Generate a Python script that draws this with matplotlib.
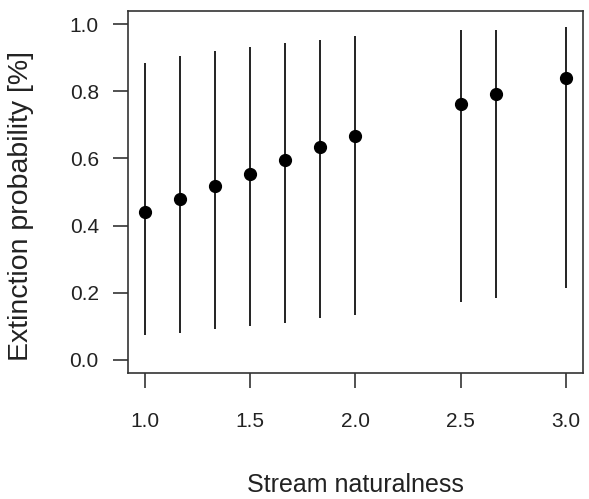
import matplotlib
matplotlib.use("Agg")
import matplotlib.pyplot as plt

# stream naturalness levels and model estimates
naturalness = [1.0, 1.1667, 1.3333, 1.5, 1.6667, 1.8333, 2.0, 2.5, 2.6667, 3.0]
prob_mean = [0.440, 0.478, 0.517, 0.555, 0.594, 0.633, 0.667, 0.763, 0.792, 0.841]
prob_low = [0.072, 0.080, 0.090, 0.099, 0.109, 0.123, 0.133, 0.173, 0.183, 0.213]
prob_high = [0.886, 0.905, 0.920, 0.934, 0.944, 0.954, 0.964, 0.984, 0.984, 0.992]

x_ticks = [1.0, 1.5, 2.0, 2.5, 3.0]
y_ticks = [0.0, 0.2, 0.4, 0.6, 0.8, 1.0]

plt.rcParams['font.family'] = ['Liberation Sans', 'DejaVu Sans']

fig = plt.figure(figsize=(5.89, 4.99), dpi=100)
ax = fig.add_axes([0.2173, 0.2525, 0.7725, 0.7255])

ax.vlines(naturalness, prob_low, prob_high, color='#111111', linewidth=1.3)
ax.plot(naturalness, prob_mean, 'o', color='black', markersize=8.5)

ax.set_xlim(0.92, 3.08)
ax.set_ylim(-0.04, 1.04)
ax.set_xticks(x_ticks)
ax.set_xticklabels(['%.1f' % v for v in x_ticks])
ax.set_yticks(y_ticks)
ax.set_yticklabels(['%.1f' % v for v in y_ticks])

for s in ax.spines.values():
    s.set_color('#333333')
    s.set_linewidth(1.2)
ax.tick_params(axis='both', length=11, width=1.2, color='#333333',
               labelsize=15, labelcolor='#222222')
ax.tick_params(axis='x', pad=17)
ax.tick_params(axis='y', pad=10)

# axis titles placed as figure text (R-style margins)
fig.text(0.6036, 0.028, 'Stream naturalness', fontsize=18, color='#222222',
         ha='center', va='center')
fig.text(0.036, 0.587, 'Extinction probability [%]', fontsize=20.5, color='#222222',
         ha='center', va='center', rotation=90)

fig.savefig('out.png', dpi=100)
